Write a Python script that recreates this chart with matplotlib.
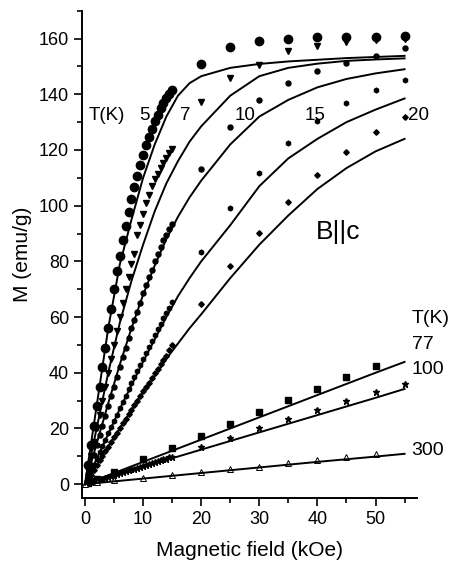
import numpy as np
import matplotlib
matplotlib.use("Agg")
import matplotlib.pyplot as plt
from matplotlib.ticker import MultipleLocator

plt.rcParams['font.family'] = ['Liberation Sans', 'DejaVu Sans']

# dense low-field sweep (kOe)
h_low = [0.5, 1.0, 1.5, 2.0, 2.5, 3.0, 3.5, 4.0, 4.5, 5.0, 5.5, 6.0, 6.5, 7.0, 7.5,
         8.0, 8.5, 9.0, 9.5, 10.0, 10.5, 11.0, 11.5, 12.0, 12.5, 13.0, 13.5, 14.0, 14.5, 15.0]
# high-field points (kOe)
h_high = [20, 25, 30, 35, 40, 45, 50, 55]

# measured M (emu/g)
m5_low = [7, 14, 21, 28, 35, 42, 49, 56, 63, 70, 76.5, 82, 87.6, 92.7, 97.8, 102.5, 106.7,
          110.6, 114.6, 118.3, 121.7, 124.8, 127.7, 130.3, 132.7, 135.1, 136.9, 138.6, 140.0, 141.6]
m5_high = [151, 157, 159, 159.8, 160.4, 160.6, 160.6, 161]
m7_low = [5, 10, 15, 20, 25, 30, 35, 40, 45, 50, 55, 60, 65, 70, 74.5, 79, 82.5, 89.5, 93, 97,
          101, 104, 107, 109.5, 111.5, 113.5, 115.5, 117, 119, 120.5]
m7_high = [137.3, 145.8, 150.5, 155.6, 157.4, 158.6, 159.5, 160]
m10_low = [3.5, 7, 10.5, 14, 17.5, 21, 24.5, 28, 31.5, 35, 38.5, 42, 45.5, 49, 52.5, 56, 59,
           62, 65, 68.5, 71.5, 74.5, 77, 80, 82.5, 85, 87.5, 89.5, 91.5, 93.3]
m10_high = [113.3, 128.3, 138, 144.2, 148.4, 151.4, 153.8, 156.5]
m15_low = [2.3, 4.6, 6.9, 9.2, 11.5, 13.8, 16, 18.3, 20.5, 22.8, 25, 27.3, 29.5, 31.7, 34,
           36.2, 38.4, 40.6, 42.8, 45, 47.1, 49.3, 51.4, 53.5, 55.6, 57.6, 59.6, 61.5, 63.4, 65.3]
m15_high = [83.3, 99, 111.7, 122.4, 130.4, 136.8, 141.7, 145.2]
m20_low = [1.7, 3.4, 5.1, 6.8, 8.5, 10.1, 11.8, 13.5, 15.1, 16.8, 18.5, 20.1, 21.8, 23.4, 25.1,
           26.7, 28.4, 30, 31.6, 33.3, 34.9, 36.5, 38.1, 39.8, 41.4, 43, 44.6, 46.2, 48.1, 50.1]
m20_high = [64.7, 78.3, 90.3, 101.5, 111, 119.4, 126.3, 131.9]

h77 = [0.5, 1, 2, 5, 10, 15, 20, 25, 30, 35, 40, 45, 50]
m77 = [0.5, 1, 2, 4.5, 9, 12.9, 17.4, 21.6, 25.8, 30.1, 34.3, 38.4, 42.6]
m100_low = [0.3, 0.7, 1.0, 1.3, 1.7, 2.0, 2.3, 2.6, 3.0, 3.3, 3.6, 4.0, 4.3, 4.6, 5.0,
            5.3, 5.6, 5.9, 6.3, 6.6, 6.9, 7.3, 7.6, 7.9, 8.3, 8.6, 8.9, 9.2, 9.6, 9.9]
m100_high = [13.2, 16.5, 20.1, 23.4, 26.7, 30.0, 33.1, 36.1]
h300 = [0, 2, 5, 10, 15, 20, 25, 30, 35, 40, 45, 50]
m300 = [0, 0.6, 1.5, 2.2, 3.3, 4.5, 5.4, 6.3, 7.5, 8.7, 9.6, 10.7]

# fitted curves
h_fit = [0, 2, 4, 6, 8, 10, 12, 14, 16, 18, 20, 25, 30, 35, 40, 45, 50, 55]
fit5 = [0, 28, 56, 79, 95, 110, 122, 132, 139.5, 144, 146.5, 149.5, 150.9, 151.8, 152.4, 153, 153.4, 153.8]
fit7 = [0, 20, 40, 58, 73, 86, 98, 108, 116, 123, 128.5, 139.5, 146.5, 149.5, 151, 152, 152.5, 152.9]
fit10 = [0, 14.5, 29, 43, 56, 68, 78.5, 88, 96, 103, 109, 122, 132, 138, 142.5, 145.5, 147.5, 149]
fit15 = [0, 9, 18, 27, 35.5, 44, 52, 60, 67.5, 74, 80, 93, 107, 117, 124, 130, 134.5, 138.5]
fit20 = [0, 6.7, 13.4, 20, 26.5, 33, 39, 45, 50.5, 56, 61, 74, 86, 96.5, 106, 113.5, 119.5, 124]
h_lin = [0, 10, 20, 30, 40, 50, 55]
fit77 = [0, 8, 16, 24, 32, 40, 43.9]
fit100 = [0, 6.2, 12.4, 18.6, 24.8, 31, 34.2]
fit300 = [0, 2, 4, 6, 8, 9.9, 10.9]

fig = plt.figure(figsize=(4.56, 5.66), dpi=100)
ax = fig.add_axes([0.18, 0.12, 0.734, 0.861])

k = dict(color='black', linestyle='none')
ax.plot(h_low + h_high, m5_low + m5_high, marker='o', markersize=6, **k)
ax.plot(h_low + h_high, m7_low + m7_high, marker='v', markersize=4.5, **k)
ax.plot(h_low + h_high, m10_low + m10_high, marker='o', markersize=3.6, **k)
ax.plot(h_low + h_high, m15_low + m15_high, marker='h', markersize=3.4, **k)
ax.plot(h_low + h_high, m20_low + m20_high, marker='D', markersize=2.8, **k)
ax.plot(h77, m77, marker='s', markersize=4.5, **k)
ax.plot(h_low + h_high, m100_low + m100_high, marker='*', markersize=5, **k)
ax.plot(h300, m300, marker='^', markersize=4, markerfacecolor='white',
        markeredgewidth=0.7, **k)

for f in (fit5, fit7, fit10, fit15, fit20):
    ax.plot(h_fit, f, color='black', lw=1.4)
for f in (fit77, fit100, fit300):
    ax.plot(h_lin, f, color='black', lw=1.4)

ax.set_xlim(-0.5, 57.1)
ax.set_ylim(-5, 170)
ax.xaxis.set_major_locator(MultipleLocator(10))
ax.xaxis.set_minor_locator(MultipleLocator(5))
ax.yaxis.set_major_locator(MultipleLocator(20))
ax.yaxis.set_minor_locator(MultipleLocator(10))
ax.spines['top'].set_visible(False)
ax.spines['right'].set_visible(False)
for s in ('left', 'bottom'):
    ax.spines[s].set_linewidth(1.4)
ax.tick_params(which='major', direction='out', length=5.5, width=1.2, labelsize=13, pad=4)
ax.tick_params(which='minor', direction='out', length=3.5, width=1.2)
ax.set_xlabel('Magnetic field (kOe)', fontsize=15, labelpad=9)
ax.set_ylabel('M (emu/g)', fontsize=15, labelpad=5)

ax.text(0.6, 132.5, 'T(K)', fontsize=13.5, va='center')
for lab, xp in [('5', 10.3), ('7', 17.2), ('10', 27.5), ('15', 39.6), ('20', 57.4)]:
    ax.text(xp, 132.5, lab, fontsize=13.5, ha='center', va='center')
ax.text(43.6, 90.4, 'B||c', fontsize=19, ha='center', va='center')
for lab, yp in [('T(K)', 59.5), ('77', 50.1), ('100', 41.1), ('300', 12.1)]:
    ax.text(56.2, yp, lab, fontsize=14, ha='left', va='center')

fig.savefig('out.png', dpi=100)
